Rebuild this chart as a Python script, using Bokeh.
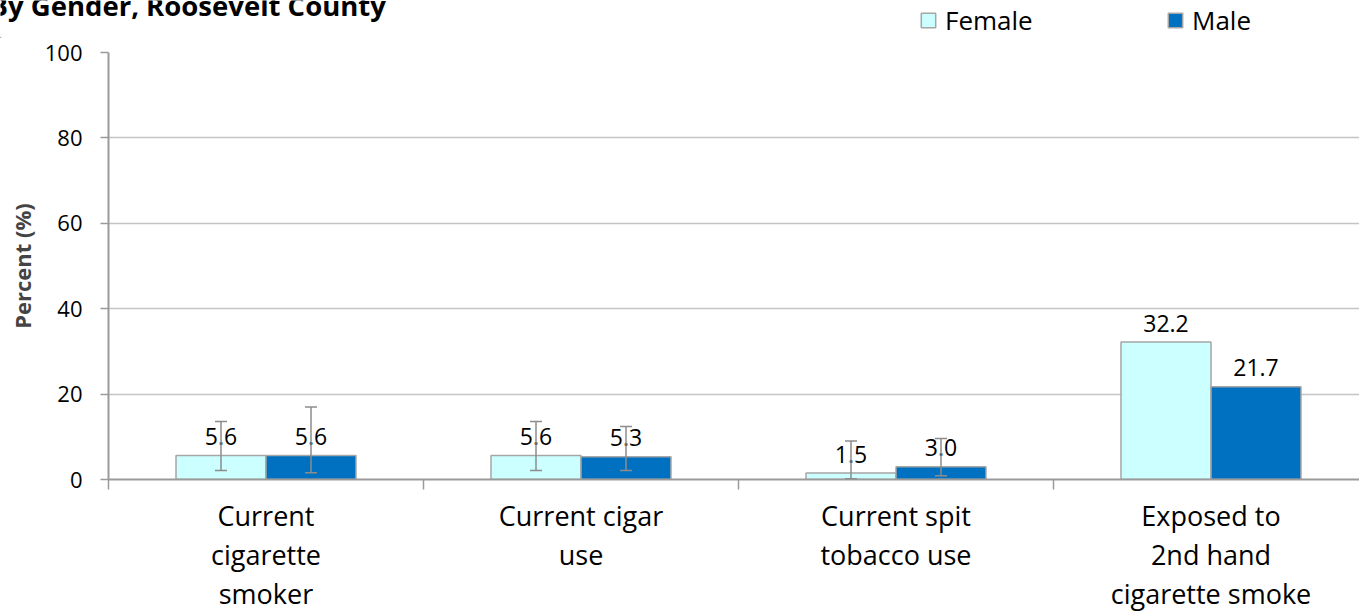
import numpy as np
from bokeh.plotting import figure
from bokeh.layouts import column
from bokeh.models import (ColumnDataSource, Range1d, FixedTicker, Whisker, TeeHead,
                          Label, Legend, LegendItem)
from bokeh.core.properties import value
from bokeh.embed import file_html
from bokeh.resources import INLINE

# ---- data ----
categories = ["Current\ncigarette\nsmoker", "Current cigar\nuse",
              "Current spit\ntobacco use", "Exposed to\n2nd hand\ncigarette smoke"]
female = [5.6, 5.6, 1.5, 32.2]
male = [5.6, 5.3, 3.0, 21.7]
female_lower = [2.1, 2.1, 0.2, None]
female_upper = [13.6, 13.6, 9.0, None]
male_lower = [1.6, 2.1, 0.9, None]
male_upper = [17.0, 12.4, 9.6, None]
y_ticks = [0, 20, 40, 60, 80, 100]
series_names = ["Female", "Male"]
title_text = "By Gender, Roosevelt County"

FONT = "Open Sans"
F_FILL, F_LINE = "#CCFFFF", "#A6A6A6"
M_FILL, M_LINE = "#0070C0", "#A6A6A6"
ERR = "#8C8C8C"
AX = "#9A9A9A"

W, H = 1359, 615
T = 38                      # height of the header strip (title + legend)
LEFT, BOTTOM = 108, 136
TOP = 52 - T
cat_px = 315.0
x_end = (W - LEFT) / cat_px
bar_w = 0.2857


def no_frame_align(fig):
    try:
        if "frame_align" in fig.properties():
            fig.frame_align = False
    except Exception:
        pass


# ---------------- header strip: title + legend ----------------
hdr = figure(width=W, height=T, output_backend="svg", toolbar_location=None,
             title=None, x_range=Range1d(0, W), y_range=Range1d(0, T),
             x_axis_location=None, y_axis_location=None,
             min_border_left=0, min_border_right=0, min_border_top=0, min_border_bottom=0)
hdr.outline_line_color = None
hdr.grid.visible = False
hdr.background_fill_color = "white"
hdr.border_fill_color = "white"
no_frame_align(hdr)

hdr.add_layout(Label(x=-11, y=T - 5, text=title_text, text_font=FONT,
                     text_font_style="bold", text_font_size="27.5px",
                     text_baseline="alphabetic", text_color="black"))

# legend proxies (kept outside the visible strip)
lf = hdr.vbar(x=[-100], top=[1], width=1, fill_color=F_FILL, line_color=F_LINE, line_width=1.5)
lm = hdr.vbar(x=[-100], top=[1], width=1, fill_color=M_FILL, line_color=M_LINE, line_width=1.5)
for r, name, xloc in [(lf, series_names[0], 919), (lm, series_names[1], 1166)]:
    lg = Legend(items=[LegendItem(label=name, renderers=[r])], location=(xloc, 0),
                orientation="horizontal", padding=0, margin=0, spacing=0,
                border_line_color=None, background_fill_alpha=0,
                glyph_width=18, glyph_height=18, label_standoff=8,
                label_text_font=FONT, label_text_font_size="26px",
                label_text_color="black")
    hdr.add_layout(lg, "center")

# ---------------- main chart ----------------
p = figure(width=W, height=H - T, output_backend="svg", toolbar_location=None,
           title=None, x_range=Range1d(0, x_end), y_range=Range1d(0, 100),
           min_border_left=LEFT, min_border_right=0, min_border_top=TOP,
           min_border_bottom=BOTTOM)
p.outline_line_color = None
p.background_fill_color = "white"
p.border_fill_color = "white"
no_frame_align(p)

centers = np.arange(len(categories)) + 0.5
src_f = ColumnDataSource(dict(x=centers - bar_w / 2, top=female,
                              lab=[f"{v:.1f}" for v in female]))
src_m = ColumnDataSource(dict(x=centers + bar_w / 2, top=male,
                              lab=[f"{v:.1f}" for v in male]))

p.vbar(x="x", top="top", width=bar_w, source=src_f, fill_color=F_FILL,
       line_color=F_LINE, line_width=1.5)
p.vbar(x="x", top="top", width=bar_w, source=src_m, fill_color=M_FILL,
       line_color=M_LINE, line_width=1.5)

def err_source(xs, lo, hi):
    idx = [i for i in range(len(lo)) if lo[i] is not None]
    return ColumnDataSource(dict(x=[xs[i] for i in idx], lower=[lo[i] for i in idx],
                                 upper=[hi[i] for i in idx]))

for xs, lo, hi in [(src_f.data["x"], female_lower, female_upper),
                   (src_m.data["x"], male_lower, male_upper)]:
    w = Whisker(base="x", lower="lower", upper="upper", source=err_source(list(xs), lo, hi),
                line_color=ERR, line_width=1.5, level="overlay",
                upper_head=TeeHead(size=12, line_color=ERR, line_width=1.5),
                lower_head=TeeHead(size=12, line_color=ERR, line_width=1.5))
    p.add_layout(w)

for src in (src_f, src_m):
    p.text(x="x", y="top", text="lab", source=src, text_align="center",
           text_baseline="alphabetic", y_offset=-19, text_font=value(FONT),
           text_font_size="23px", text_color="black")

# y axis
p.yaxis.ticker = FixedTicker(ticks=y_ticks)
p.yaxis.axis_label = "Percent (%)"
p.yaxis.axis_label_text_font = FONT
p.yaxis.axis_label_text_font_style = "bold"
p.yaxis.axis_label_text_font_size = "22px"
p.yaxis.axis_label_standoff = 5
p.yaxis.major_label_text_font = FONT
p.yaxis.major_label_text_font_size = "22px"
p.yaxis.major_label_text_color = "black"
p.yaxis.major_label_standoff = 18
p.yaxis.major_tick_in = 0
p.yaxis.major_tick_out = 8
p.yaxis.minor_tick_line_color = None
p.yaxis.axis_line_color = AX
p.yaxis.axis_line_width = 2
p.yaxis.major_tick_line_color = AX
p.yaxis.major_tick_line_width = 1.5

# x axis
p.xaxis.ticker = FixedTicker(ticks=list(centers), minor_ticks=list(range(len(categories) + 1)))
p.xaxis.major_label_overrides = {float(c): lab for c, lab in zip(centers, categories)}
p.xaxis.major_label_text_font = FONT
p.xaxis.major_label_text_font_size = "27px"
p.xaxis.major_label_text_color = "black"
p.xaxis.major_label_text_line_height = 1.055
p.xaxis.major_label_standoff = 7
p.xaxis.major_tick_line_color = None
p.xaxis.major_tick_in = 0
p.xaxis.major_tick_out = 0
p.xaxis.minor_tick_in = 0
p.xaxis.minor_tick_out = 10
p.xaxis.minor_tick_line_color = AX
p.xaxis.minor_tick_line_width = 1.5
p.xaxis.axis_line_color = AX
p.xaxis.axis_line_width = 2

p.xgrid.grid_line_color = None
p.ygrid.ticker = FixedTicker(ticks=y_ticks)
p.ygrid.grid_line_color = "#C4C4C4"
p.ygrid.grid_line_width = 1.5

layout = column(hdr, p, spacing=0)
open("out.html", "w").write(file_html(layout, INLINE))
